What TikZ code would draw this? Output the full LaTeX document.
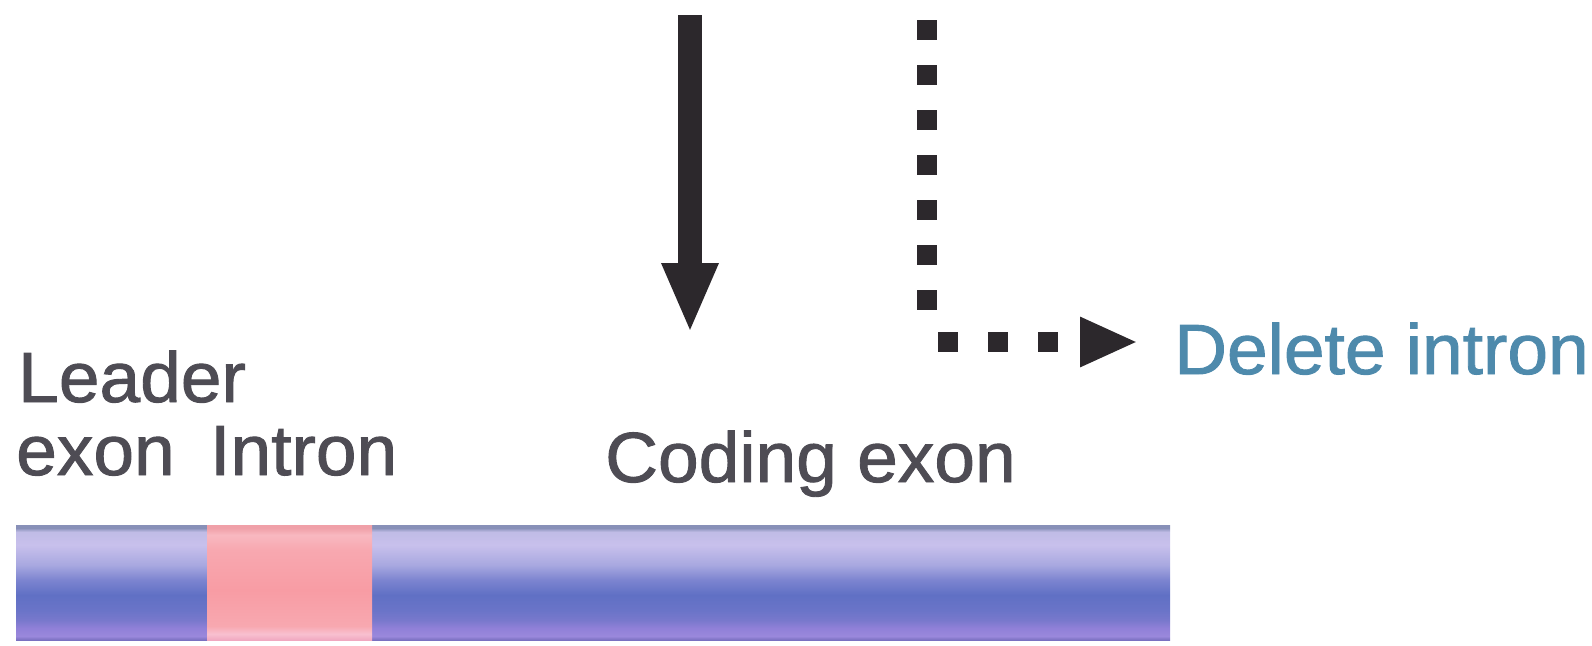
\documentclass[tikz,border=0pt]{standalone}
\usepackage{fontspec}
\setmainfont{Liberation Sans}[FakeBold=1.3,FakeStretch=1.03]
\usetikzlibrary{arrows.meta}
\definecolor{txtgray}{RGB}{78,76,84}
\definecolor{delblue}{RGB}{78,138,172}
\definecolor{arrowdark}{RGB}{44,40,44}
\definecolor{bA}{HTML}{7A70C0}
\definecolor{bB}{HTML}{9A88DC}
\definecolor{bC}{HTML}{9080D8}
\definecolor{bD}{HTML}{7878CC}
\definecolor{bE}{HTML}{6A74C8}
\definecolor{bF}{HTML}{6070C4}
\definecolor{bG}{HTML}{7C84D0}
\definecolor{bH}{HTML}{A8A8E0}
\definecolor{bI}{HTML}{C8C0EC}
\definecolor{bJ}{HTML}{C0BCE6}
\definecolor{bK}{HTML}{8890B8}
\definecolor{pA}{HTML}{F0A8C0}
\definecolor{pB}{HTML}{F8C0D0}
\definecolor{pC}{HTML}{F8A8B0}
\definecolor{pD}{HTML}{F89CA4}
\definecolor{pE}{HTML}{F8A8B0}
\definecolor{pF}{HTML}{F8B8C0}
\definecolor{pG}{HTML}{F0A0A8}
\pgfdeclareverticalshading{blueband}{100bp}{color(0bp)=(bA); color(25bp)=(bA); color(26.7bp)=(bB); color(30.2bp)=(bC); color(33.7bp)=(bD); color(38bp)=(bE); color(44.6bp)=(bF); color(51.1bp)=(bG); color(57.6bp)=(bH); color(66.3bp)=(bI); color(72bp)=(bJ); color(73.7bp)=(bK); color(75bp)=(bK); color(100bp)=(bK)}
\pgfdeclareverticalshading{pinkband}{100bp}{color(0bp)=(pA); color(25bp)=(pA); color(27.6bp)=(pB); color(31.1bp)=(pC); color(46.7bp)=(pD); color(64.1bp)=(pE); color(70.7bp)=(pF); color(73.7bp)=(pG); color(75bp)=(pG); color(100bp)=(pG)}
\tikzset{
  lbl/.style={anchor=base west, inner sep=0pt, text=txtgray, font=\fontsize{71}{84}\selectfont},
  dellbl/.style={lbl, text=delblue},
  solidarrow/.style={draw=arrowdark, line width=24pt, -{Triangle[width=52pt,length=70pt]}},
  dotline/.style={draw=arrowdark, line width=20pt, dash pattern=on 20pt off 25pt},
  dotarrow/.style={draw=arrowdark, line width=20pt, dash pattern=on 20pt off 30pt, -{Triangle[width=46pt,length=58pt]}}
}
\begin{document}
\begin{tikzpicture}[x=1pt,y=-1pt]
\useasboundingbox (0,0) rectangle (1592,645);
% bar
\shade[shading=blueband] (16,525) rectangle (1170,640);
\shade[shading=pinkband] (207,525) rectangle (372,640);
% labels
\node[lbl] (leader) at (18,402) {Leader};
\node[lbl] (exon) at (16,475) {exon};
\node[lbl] (intron) at (210,475) {Intron};
\node[lbl] (coding) at (605,482) {Coding exon};
\node[dellbl] (del) at (1174,374) {Delete intron};
% solid arrow
\coordinate (sa0) at (690,15);
\coordinate (sa1) at (690,333);
\draw[solidarrow] (sa0) -- (sa1);
% dotted arrow
\coordinate (dv0) at (927,20);
\coordinate (dv1) at (927,310);
\coordinate (dh0) at (938,342);
\coordinate (dh1) at (1138,342);
\draw[dotline] (dv0) -- (dv1);
\draw[dotarrow] (dh0) -- (dh1);
\end{tikzpicture}
\end{document}
